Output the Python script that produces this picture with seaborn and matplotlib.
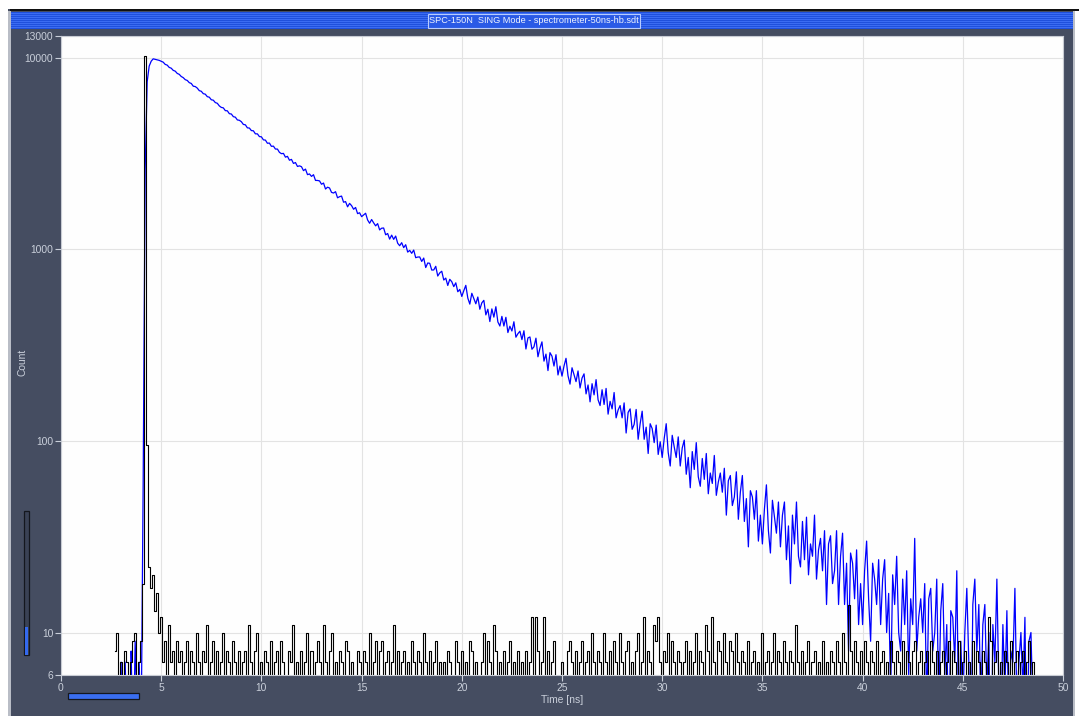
import numpy as np
import pandas as pd
import matplotlib
matplotlib.use("Agg")
import matplotlib.pyplot as plt
from matplotlib.patches import Rectangle
import seaborn as sns

# ---------------------------------------------------------------- data
t_start = 2.7      # first channel time [ns]
t_step = 0.1       # channel width [ns]

# fluorescence decay (counts per channel)
decay_counts = [
    2, 0, 4, 7, 1, 7, 3, 0, 8, 2, 9, 4, 7, 3, 60,
    2600, 7500, 9050, 9600, 9880, 9820, 9760, 9700,
    9590, 9490, 9240, 9160, 8910, 8830, 8600, 8520, 8290, 8200,
    7990, 7880, 7690, 7620, 7420, 7350, 7110, 7080, 6950, 6740,
    6690, 6500, 6460, 6270, 6230, 6040, 6010, 5840, 5790, 5610,
    5510, 5480, 5300, 5290, 5110, 5090, 4930, 4900, 4740, 4720,
    4640, 4490, 4470, 4310, 4300, 4170, 4160, 4010, 4010, 3880,
    3870, 3730, 3720, 3580, 3590, 3450, 3460, 3340, 3340, 3210,
    3160, 3170, 3030, 3060, 2920, 2950, 2810, 2840, 2710, 2730,
    2702, 2577, 2625, 2456, 2476, 2404, 2454, 2291, 2290, 2278,
    2188, 2220, 2066, 2112, 2092, 1984, 1969, 2001, 1859, 1884,
    1898, 1763, 1776, 1668, 1738, 1692, 1620, 1655, 1537, 1553,
    1482, 1514, 1544, 1424, 1369, 1432, 1376, 1327, 1363, 1264,
    1290, 1293, 1192, 1210, 1131, 1187, 1128, 1174, 1077, 1045,
    1084, 1021, 1058, 968, 988, 954, 992, 905, 912, 913,
    865, 901, 804, 849, 846, 780, 781, 816, 726, 754,
    769, 692, 708, 648, 698, 678, 639, 669, 601, 618,
    568, 609, 649, 557, 518, 590, 553, 520, 564, 487,
    526, 542, 455, 487, 420, 489, 443, 502, 418, 398,
    447, 398, 442, 368, 397, 375, 419, 348, 363, 374,
    338, 376, 302, 345, 349, 301, 310, 344, 275, 305,
    329, 261, 284, 233, 289, 277, 246, 282, 221, 246,
    218, 246, 270, 219, 198, 241, 222, 204, 232, 189,
    213, 224, 176, 196, 160, 199, 174, 209, 164, 153,
    185, 155, 188, 138, 161, 147, 179, 132, 145, 153,
    132, 158, 110, 141, 147, 115, 122, 146, 102, 123,
    143, 102, 118, 86, 123, 116, 98, 121, 85, 99,
    82, 103, 123, 87, 74, 107, 93, 82, 105, 74,
    92, 101, 67, 82, 57, 88, 71, 98, 65, 58,
    81, 63, 86, 53, 68, 60, 84, 52, 61, 68,
    54, 72, 41, 62, 66, 46, 51, 69, 39, 54,
    66, 38, 50, 28, 55, 51, 39, 55, 30, 41,
    29, 44, 59, 34, 26, 49, 40, 33, 48, 28,
    41, 48, 24, 36, 18, 41, 29, 48, 25, 22,
    38, 24, 40, 20, 29, 25, 41, 19, 27, 31,
    21, 34, 14, 29, 32, 18, 21, 34, 14, 25,
    33, 14, 23, 8, 26, 23, 15, 27, 11, 18,
    11, 21, 30, 15, 9, 23, 19, 14, 24, 11,
    19, 24, 10, 16, 5, 20, 14, 25, 10, 8,
    19, 11, 21, 6, 15, 11, 31, 8, 12, 15,
    10, 18, 4, 15, 17, 8, 10, 19, 4, 13,
    18, 6, 11, 2, 13, 12, 7, 21, 3, 9,
    4, 10, 17, 7, 2, 14, 19, 8, 14, 4,
    11, 14, 5, 10, 1, 11, 7, 19, 5, 3,
    11, 5, 13, 3, 8, 7, 17, 4, 7, 10,
    5, 12, 2, 9, 10, 4, 5,
]

# instrument response function (counts per channel)
irf_counts = [
    8, 10, 0, 7, 0, 8, 7, 0, 7, 9, 10, 0, 7, 9, 18,
    10200, 95, 22, 17, 20, 13, 16, 10,
    12, 7, 9, 0, 11, 7, 8, 0, 9, 7,
    8, 0, 7, 9, 0, 8, 7, 0, 10, 7,
    0, 8, 7, 11, 0, 7, 9, 0, 8, 0,
    7, 10, 0, 8, 7, 0, 9, 7, 0, 8,
    0, 7, 8, 0, 11, 7, 0, 8, 10, 0,
    7, 0, 8, 7, 0, 9, 0, 7, 8, 0,
    9, 7, 0, 0, 8, 7, 11, 0, 7, 0,
    8, 0, 7, 10, 0, 8, 0, 7, 9, 7,
    0, 11, 7, 0, 8, 10, 0, 7, 0, 8,
    7, 0, 9, 8, 0, 7, 0, 0, 8, 7,
    0, 8, 7, 0, 10, 0, 7, 9, 0, 8,
    9, 0, 7, 8, 0, 7, 11, 0, 8, 0,
    7, 8, 0, 7, 0, 9, 7, 0, 8, 7,
    0, 10, 7, 0, 8, 0, 7, 9, 0, 7,
    0, 7, 0, 8, 7, 0, 0, 9, 7, 0,
    8, 0, 7, 0, 9, 8, 0, 7, 0, 0,
    7, 10, 0, 9, 7, 0, 11, 8, 0, 7,
    0, 8, 0, 7, 9, 0, 7, 0, 8, 0,
    7, 0, 8, 0, 7, 12, 0, 12, 8, 0,
    7, 12, 0, 8, 0, 7, 9, 0, 0, 0,
    7, 0, 0, 8, 9, 7, 0, 8, 0, 7,
    9, 0, 7, 8, 0, 10, 7, 0, 8, 7,
    0, 10, 7, 0, 8, 0, 9, 7, 0, 10,
    7, 0, 8, 9, 0, 7, 0, 8, 10, 0,
    7, 12, 0, 8, 7, 0, 11, 9, 12, 7,
    0, 8, 7, 10, 0, 9, 7, 0, 8, 7,
    0, 7, 9, 0, 8, 0, 7, 10, 0, 8,
    7, 0, 11, 8, 0, 12, 7, 0, 9, 8,
    0, 10, 7, 0, 9, 8, 0, 10, 7, 0,
    8, 7, 0, 9, 0, 7, 8, 0, 7, 0,
    10, 0, 7, 8, 0, 7, 10, 0, 8, 7,
    0, 9, 7, 0, 8, 7, 0, 11, 7, 0,
    8, 0, 7, 9, 0, 7, 8, 0, 7, 0,
    9, 0, 7, 0, 8, 7, 0, 9, 7, 0,
    10, 7, 0, 14, 8, 0, 9, 7, 0, 8,
    0, 9, 7, 0, 8, 7, 0, 9, 0, 7,
    8, 0, 7, 0, 9, 7, 0, 8, 7, 0,
    9, 0, 8, 7, 0, 8, 9, 0, 7, 8,
    0, 7, 8, 0, 9, 7, 0, 8, 0, 7,
    8, 0, 7, 9, 0, 8, 7, 0, 9, 0,
    7, 8, 0, 7, 0, 9, 0, 8, 7, 0,
    8, 7, 0, 12, 9, 0, 7, 8, 0, 7,
    0, 8, 7, 0, 9, 0, 7, 8, 0, 7,
    8, 0, 7, 9, 0, 7, 0,
]

x_ticks = [0, 5, 10, 15, 20, 25, 30, 35, 40, 45, 50]
y_ticks = [6, 10, 100, 1000, 10000, 13000]
y_tick_labels = ["6", "10", "100", "1000", "10000", "13000"]
window_title = "SPC-150N  SING Mode - spectrometer-50ns-hb.sdt"
x_label = "Time [ns]"
y_label = "Count"

time_ns = np.round(t_start + t_step * np.arange(len(decay_counts)), 2)
df = pd.DataFrame({"time": time_ns,
                   "decay": decay_counts,
                   "irf": irf_counts})

# ---------------------------------------------------------------- style
W, H = 1079, 716
PANEL = "#454d61"
TXT = "#c9cfda"
FONT = ["Liberation Sans", "DejaVu Sans"]
plt.rcParams["font.family"] = FONT

fig = plt.figure(figsize=(W / 100, H / 100), dpi=100, facecolor=PANEL)


def px_rect(x0, y0, x1, y1, **kw):
    """Rectangle given in pixel coordinates measured from the top-left."""
    r = Rectangle((x0 / W, 1 - y1 / H), (x1 - x0) / W, (y1 - y0) / H,
                  transform=fig.transFigure, **kw)
    fig.add_artist(r)
    return r


# window chrome
px_rect(0, 0, W, 9, facecolor="white", edgecolor="none")
px_rect(10, 9, W, 10.5, facecolor="#111111", edgecolor="none")
px_rect(0, 9, 8, H, facecolor="white", edgecolor="none")
px_rect(8, 10.5, 11, H, facecolor="#b9bdc6", edgecolor="none")
px_rect(1075, 10.5, W, H, facecolor="white", edgecolor="none")
px_rect(1073, 10.5, 1075, H, facecolor="#b9bdc6", edgecolor="none")

# title bar with striped blue fill
px_rect(11, 12, 1073, 28.5, facecolor="#1f50dc", edgecolor="none")
for yy in np.arange(13, 28, 2.0):
    px_rect(11, yy, 1073, yy + 0.8, facecolor="#3b6cf2", edgecolor="none")
px_rect(428, 13.5, 640, 27.5, facecolor="#2a5ae6", edgecolor="#b8ccff", lw=0.8)
fig.text(534 / W, 1 - 20.5 / H, window_title, ha="center", va="center",
         color="#eef3ff", fontsize=6.6)

# intensity slider on the left and scroll bar at the bottom
px_rect(24, 511, 28.5, 655, facecolor="#3a4255", edgecolor="#14171e", lw=0.9)
px_rect(24.5, 627, 28, 654.5, facecolor="#3469ee", edgecolor="none")
px_rect(68, 693, 139, 699, facecolor="#3a6ef0", edgecolor="#14171e", lw=0.9)

# ---------------------------------------------------------------- plot
ax = fig.add_axes([61 / W, 41 / H, 1002 / W, 639 / H])
ax.set_facecolor("#fefefe")

sns.lineplot(x=df["time"], y=df["decay"], estimator=None, sort=False,
             color="#0000ff", linewidth=0.9, ax=ax)
sns.lineplot(x=df["time"], y=df["irf"], estimator=None, sort=False,
             color="#000000", linewidth=0.8, drawstyle="steps-mid", ax=ax)

ax.set_yscale("log", nonpositive="clip")
ax.set_xlim(0, 50)
ax.set_ylim(6, 13000)
ax.set_xticks(x_ticks)
ax.set_xticklabels([str(v) for v in x_ticks])
ax.set_yticks(y_ticks)
ax.set_yticklabels(y_tick_labels)
ax.minorticks_off()

ax.grid(True, color="#e3e3e3", lw=0.8)
ax.set_axisbelow(True)
ax.tick_params(axis="both", colors=TXT, labelcolor=TXT, labelsize=7.4,
               length=4, width=0.8, direction="out", pad=1.5)
for s in ax.spines.values():
    s.set_color("#c8ccd4")
    s.set_linewidth(0.8)

ax.set_xlabel(x_label, color=TXT, fontsize=7.4, labelpad=2)
ax.set_ylabel("")
fig.text(22 / W, 1 - 362 / H, y_label, rotation=90, ha="center", va="center",
         color=TXT, fontsize=7.4)

fig.savefig("out.png", dpi=100, facecolor=PANEL)
